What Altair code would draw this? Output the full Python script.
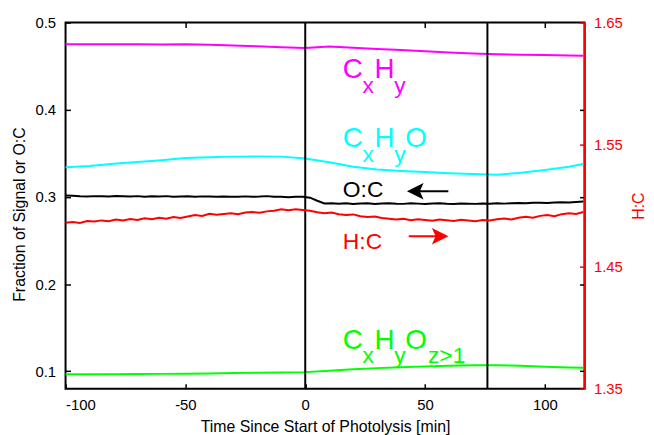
import altair as alt
import pandas as pd

# ---------------- data ----------------
smooth_t = [-100, -90, -80, -70, -60, -50, -40, -30, -20, -10, 0, 10, 20, 30, 40,
            50, 60, 70, 80, 90, 100, 110, 116]
cxhy = [0.4752, 0.4752, 0.4751, 0.4750, 0.4749, 0.4751, 0.4745, 0.4738, 0.4728, 0.4716,
        0.4708, 0.4725, 0.4712, 0.4698, 0.4686, 0.4670, 0.4657, 0.4645, 0.4636, 0.4630,
        0.4627, 0.4622, 0.4620]
cxhyo = [0.3339, 0.3355, 0.3380, 0.3400, 0.3420, 0.3445, 0.3455, 0.3462, 0.3465, 0.3462,
         0.3440, 0.3398, 0.3345, 0.3315, 0.3298, 0.3285, 0.3272, 0.3262, 0.3254, 0.3278,
         0.3308, 0.3345, 0.3377]
cxhyoz = [0.0965, 0.0966, 0.0967, 0.0968, 0.0970, 0.0972, 0.0975, 0.0979, 0.0983, 0.0987,
          0.0990, 0.1005, 0.1022, 0.1036, 0.1047, 0.1056, 0.1063, 0.1068, 0.1069, 0.1062,
          0.1052, 0.1044, 0.1040]

noisy_t = list(range(-100, 117, 3))
o_to_c = [0.3016, 0.3014, 0.3008, 0.3006, 0.3009, 0.3007, 0.3006, 0.3010, 0.3008, 0.3004,
          0.3009, 0.3002, 0.3007, 0.3005, 0.3009, 0.3003, 0.3005, 0.3008, 0.3002, 0.3006,
          0.3004, 0.3001, 0.3005, 0.3003, 0.3002, 0.3006, 0.3001, 0.3004, 0.3009, 0.3003,
          0.3002, 0.2997, 0.3002, 0.3003,
          0.2991, 0.2956, 0.2924, 0.2928, 0.2921, 0.2926, 0.2920, 0.2925, 0.2927, 0.2919,
          0.2924, 0.2928, 0.2922, 0.2920, 0.2926, 0.2923, 0.2918, 0.2924, 0.2927, 0.2921,
          0.2919, 0.2925, 0.2922, 0.2920, 0.2924, 0.2921, 0.2926, 0.2923, 0.2928, 0.2931,
          0.2927, 0.2932, 0.2934, 0.2930, 0.2935, 0.2938, 0.2936, 0.2941, 0.2946]
h_to_c = [1.4860, 1.4866, 1.4858, 1.4874, 1.4870, 1.4879, 1.4873, 1.4886, 1.4878, 1.4890,
          1.4882, 1.4897, 1.4888, 1.4900, 1.4892, 1.4906, 1.4898, 1.4911, 1.4923, 1.4916,
          1.4933, 1.4926, 1.4932, 1.4938, 1.4930, 1.4943, 1.4948, 1.4941, 1.4953, 1.4958,
          1.4970, 1.4963, 1.4971, 1.4965,
          1.4958, 1.4946, 1.4938, 1.4943, 1.4930, 1.4923, 1.4928, 1.4913, 1.4906, 1.4910,
          1.4898, 1.4892, 1.4886, 1.4893, 1.4880, 1.4888, 1.4883, 1.4876, 1.4887, 1.4881,
          1.4874, 1.4885, 1.4878, 1.4872, 1.4882, 1.4878, 1.4888, 1.4894, 1.4886, 1.4900,
          1.4908, 1.4901, 1.4916, 1.4923, 1.4913, 1.4930, 1.4938, 1.4932, 1.4948]

event_times = [0, 76]
x_tick_values = [-100, -50, 0, 50, 100]
left_tick_values = [0.1, 0.2, 0.3, 0.4, 0.5]
right_tick_values = [1.35, 1.45, 1.55, 1.65]
top_tick_values = [-50, 50, 100]
mirror_left_ticks = [0.1, 0.2, 0.3, 0.4]

MAGENTA, CYAN, GREEN, RED, BLACK = "#ff00ff", "#00ffff", "#00ff00", "#ff0000", "#000000"
FONT = "Liberation Sans"
W, H = 523, 369
X_DOM = [-100, 116.5]
YL_DOM = [0.08, 0.5]
YR_DOM = [1.35, 1.65]
INWARD = alt.ExprRef(expr="-5")   # negative tick size -> ticks point into the plot

# ---------------- tables ----------------
rows = []
for name, col, ts, vals in [("CxHy", MAGENTA, smooth_t, cxhy),
                            ("CxHyO", CYAN, smooth_t, cxhyo),
                            ("CxHyOz", GREEN, smooth_t, cxhyoz),
                            ("OC", BLACK, noisy_t, o_to_c)]:
    for t, v in zip(ts, vals):
        rows.append({"series": name, "color": col, "t": t, "v": v})
left_df = pd.DataFrame(rows)
hc_df = pd.DataFrame({"t": noisy_t, "v": h_to_c})

labels = pd.DataFrame([
    ("C", 15.7, 0.4361, MAGENTA, 28), ("x", 23.9, 0.4190, MAGENTA, 23),
    ("H", 28.9, 0.4361, MAGENTA, 28), ("y", 37.1, 0.4190, MAGENTA, 23),
    ("C", 15.7, 0.3567, CYAN, 28), ("x", 23.9, 0.3396, CYAN, 23),
    ("H", 28.9, 0.3567, CYAN, 28), ("y", 37.1, 0.3396, CYAN, 23),
    ("O", 41.7, 0.3567, CYAN, 28),
    ("O:C", 15.7, 0.2997, BLACK, 23),
    ("H:C", 15.7, 0.2400, RED, 23),
    ("C", 15.7, 0.1260, GREEN, 28), ("x", 23.9, 0.1089, GREEN, 23),
    ("H", 28.9, 0.1260, GREEN, 28), ("y", 37.1, 0.1089, GREEN, 23),
    ("O", 41.7, 0.1260, GREEN, 28), ("z>1", 51.2, 0.1089, GREEN, 23),
], columns=["text", "x", "y", "color", "size"])

arrow_shafts = pd.DataFrame([
    {"x": 45.9, "x2": 59.7, "y": 0.3065, "color": BLACK},
    {"x": 43.2, "x2": 56.3, "y": 0.2548, "color": RED},
])
arrow_heads = pd.DataFrame([
    {"x": 45.9, "y": 0.3065, "color": BLACK, "shape": "M-1,0L1,-1L0.55,0L1,1Z"},
    {"x": 56.3, "y": 0.2548, "color": RED, "shape": "M1,0L-1,-1L-0.55,0L-1,1Z"},
])

# ---------------- scales / axes ----------------
xs = alt.Scale(domain=X_DOM, nice=False, zero=False)
ys_left = alt.Scale(domain=YL_DOM, nice=False, zero=False)
ys_right = alt.Scale(domain=YR_DOM, nice=False, zero=False)

x_axis = alt.Axis(orient="bottom", values=x_tick_values, labelExpr="'' + datum.value",
                  ticks=True, tickSize=INWARD, tickColor=BLACK, tickWidth=1.5,
                  domain=False, grid=False, labelFontSize=15, labelPadding=14,
                  labelColor=BLACK, title="Time Since Start of Photolysis [min]",
                  titleFontSize=16, titleFontWeight="normal", titleColor=BLACK,
                  titleBaseline="alphabetic", titleY=43, titleX=W / 2)
x_top_axis = alt.Axis(orient="top", values=top_tick_values, labels=False, ticks=True,
                      tickSize=INWARD, tickColor=BLACK, tickWidth=1.5, domain=False,
                      grid=False, title=None)
left_axis = alt.Axis(orient="left", values=left_tick_values, format=".1f", ticks=True,
                     tickSize=INWARD, tickColor=BLACK, tickWidth=1.5, domain=False,
                     grid=False, labelFontSize=15, labelPadding=15, labelColor=BLACK,
                     title="Fraction of Signal or O:C", titleFontSize=16,
                     titleFontWeight="normal", titleColor=BLACK, titleX=-46, titleY=193,
                     titleBaseline="middle", titleAlign="center", titleAngle=270)
mirror_axis = alt.Axis(orient="right", values=mirror_left_ticks, labels=False, ticks=True,
                       tickSize=INWARD, tickColor=BLACK, tickWidth=1.5, domain=False,
                       grid=False, title=None)
right_axis = alt.Axis(orient="right", values=right_tick_values, format=".2f", ticks=True,
                      tickSize=INWARD, tickColor=RED, tickWidth=1.5,
                      domain=True, domainColor=RED, domainWidth=2, grid=False,
                      labelFontSize=15, labelPadding=14, labelColor=RED,
                      title="H:C", titleFontSize=16, titleFontWeight="normal",
                      titleColor=RED, titleX=54, titleY=184.5, titleBaseline="middle",
                      titleAlign="center", titleAngle=270)

def X(f="t", axis=None):
    return alt.X(f"{f}:Q", scale=xs, axis=axis)

def YL(f="v", axis=None):
    return alt.Y(f"{f}:Q", scale=ys_left, axis=axis)

# ---------------- left-scale layers ----------------
lines = alt.Chart(left_df).mark_line(strokeWidth=2).encode(
    x=X(axis=x_axis), y=YL(axis=left_axis), detail="series:N",
    color=alt.Color("color:N", scale=None), order="t:Q")

vlines = alt.Chart(pd.DataFrame({"t": event_times})).mark_rule(
    color=BLACK, strokeWidth=2).encode(x=X(axis=x_top_axis))

texts = alt.Chart(labels).mark_text(align="left", baseline="alphabetic", font=FONT).encode(
    x=X("x"), y=YL("y"), text="text:N", color=alt.Color("color:N", scale=None),
    size=alt.Size("size:Q", scale=None))

shafts = alt.Chart(arrow_shafts).mark_rule(strokeWidth=2).encode(
    x=X("x"), x2="x2:Q", y=YL("y", axis=mirror_axis), color=alt.Color("color:N", scale=None))
heads = alt.Chart(arrow_heads).mark_point(filled=True, size=280, opacity=1).encode(
    x=X("x"), y=YL("y"), color=alt.Color("color:N", scale=None),
    shape=alt.Shape("shape:N", scale=None))

left_layer = alt.layer(lines, vlines, texts, shafts, heads)

# ---------------- right-scale layer ----------------
hc_line = alt.Chart(hc_df).mark_line(color=RED, strokeWidth=2).encode(
    x=X(), y=alt.Y("v:Q", scale=ys_right, axis=right_axis))

chart = alt.layer(left_layer, hc_line).resolve_scale(y="independent").resolve_axis(
    y="independent"
).properties(
    width=W, height=H, autosize="none",
    padding={"left": 58, "top": 13, "right": 62, "bottom": 45},
).configure_view(stroke=BLACK, strokeWidth=2).configure_axis(
    labelFont=FONT, titleFont=FONT
).configure_text(font=FONT)

chart.save("out.html", embed_options={"renderer": "svg", "actions": False})
